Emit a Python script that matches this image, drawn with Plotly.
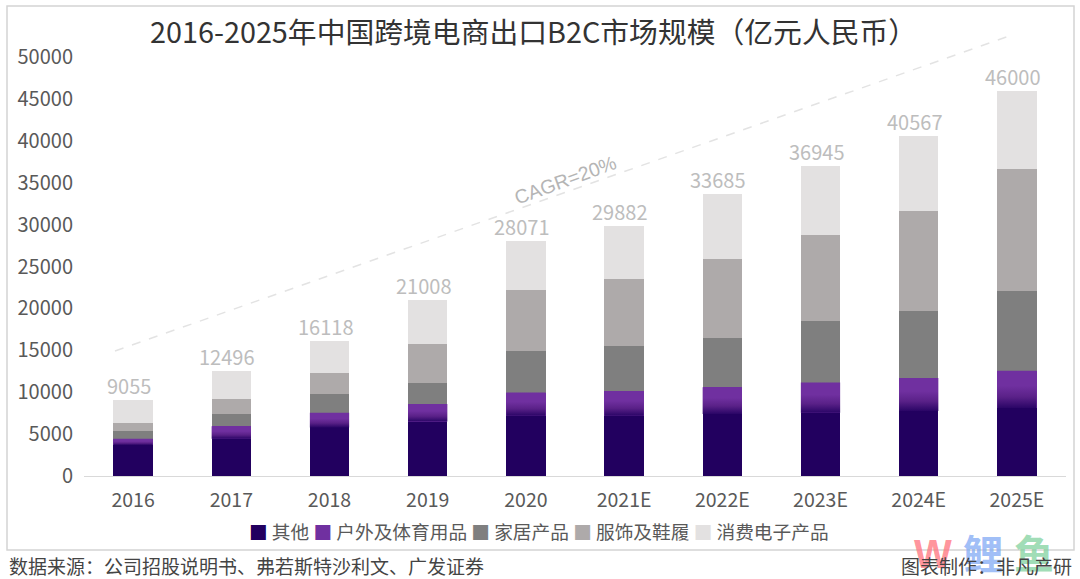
import plotly.graph_objects as go

years = ["2016","2017","2018","2019","2020","2021E","2022E","2023E","2024E","2025E"]
totals = [9055,12496,16118,21008,28071,29882,33685,36945,40567,46000]
other = [3700,4450,5800,6500,7200,7200,7400,7550,7750,8100]
outdoor = [750,1500,1750,2100,2750,2950,3200,3600,3950,4450]
home = [900,1450,2200,2550,5000,5350,5850,7350,8000,9550]
apparel = [1000,1800,2550,4600,7300,8000,9450,10250,11950,14550]
electronics = [2705,3296,3818,5258,5821,6382,7785,8195,8917,9350]
names = ["其他","户外及体育用品","家居产品","服饰及鞋履","消费电子产品"]
colors = ["#22005f","#7030a0","#7f7f7f","#aeaaaa","#e3e1e1"]
yticks = [0,5000,10000,15000,20000,25000,30000,35000,40000,45000,50000]

FONT = "Noto Sans CJK SC"
BAR_W = 0.4
xs = list(range(len(years)))
fig = go.Figure()
for name, vals, c in zip(names, [other,outdoor,home,apparel,electronics], colors):
    fig.add_bar(x=xs, y=vals, name=name, width=BAR_W, marker=dict(color=c, line=dict(width=0)), showlegend=False)

# gradient on the purple segment, derived from the data arrays
for i in xs:
    lo, hi = other[i], other[i] + outdoor[i]
    fig.add_scatter(
        x=[i-BAR_W/2, i+BAR_W/2, i+BAR_W/2, i-BAR_W/2, i-BAR_W/2],
        y=[lo, lo, hi, hi, lo], mode="lines", line=dict(width=0), fill="toself",
        fillgradient=dict(type="vertical", colorscale=[[0,"#2a0566"],[0.3,"#5a2188"],[0.6,"#7030a0"],[1,"#7030a0"]]),
        showlegend=False, hoverinfo="skip")

annotations = [
    dict(x=i, y=t, text=str(t), xref="x", yref="y", yanchor="bottom", xshift=-4, yshift=-2,
         showarrow=False, font=dict(family=FONT, size=20, color="#bdbdbd"))
    for i, t in zip(xs, totals)
]
paper_x = lambda px: (px-84)/982
paper_y = lambda py: (476-py)/419
def note(px, py, text, size, color, xanchor="center", family=FONT, angle=0):
    return dict(xref="paper", yref="paper", x=paper_x(px), y=paper_y(py), text=text, xanchor=xanchor, yanchor="middle",
                showarrow=False, textangle=angle, font=dict(family=family, size=size, color=color))
legend_text = " ".join(f'<span style="color:{c}">■</span> {n}' for n, c in zip(names, colors))
annotations += [
    note(533, 30, "2016-2025年中国跨境电商出口B2C市场规模\uff08亿元人民币\uff09", 28.8, "#333333"),
    note(565, 180, "CAGR=20%", 19.5, "#b5b5b5", family="Liberation Sans", angle=-20),
    note(539, 530, legend_text, 18.7, "#595959"),
    note(933, 554, "<b>W</b>", 40, "rgba(255,120,130,0.8)", family="Liberation Sans"),
    note(983, 552, "<b>鲤</b>", 40, "rgba(130,170,245,0.75)"),
    note(1034, 552, "<b>鱼</b>", 40, "rgba(130,210,160,0.75)"),
    note(7, 565, "数据来源\uff1a公司招股说明书、弗若斯特沙利文、广发证券", 19, "#444444", xanchor="left"),
    note(1074, 565, "图表制作\uff1a非凡产研", 19, "#444444", xanchor="right"),
]

fig.update_layout(
    width=1080, height=579, barmode="stack", showlegend=False,
    margin=dict(l=84, r=14, t=57, b=103, pad=0),
    paper_bgcolor="white", plot_bgcolor="white", font=dict(family=FONT, color="#595959"),
    xaxis=dict(range=[-0.5, 9.5], tickmode="array", tickvals=xs, ticktext=years, showgrid=False,
               zeroline=False, showline=True, linecolor="#d9d9d9", linewidth=1, ticks="", ticklabelstandoff=7,
               tickfont=dict(size=19.5, color="#595959")),
    yaxis=dict(range=[0, 50000], tickmode="array", tickvals=yticks, ticktext=[str(v) for v in yticks], showgrid=False,
               zeroline=False, showline=False, ticks="", ticklabelstandoff=10, tickfont=dict(size=20, color="#595959")),
    annotations=annotations,
    shapes=[
        dict(type="rect", xref="paper", yref="paper", x0=paper_x(7), x1=paper_x(1074), y0=paper_y(550), y1=paper_y(6),
             line=dict(color="#d4d4d4", width=1.5), fillcolor="rgba(0,0,0,0)", layer="below"),
        dict(type="line", xref="paper", yref="paper", x0=paper_x(115), x1=paper_x(1012), y0=paper_y(351), y1=paper_y(35),
             line=dict(color="#e3e3e3", width=1.5, dash="dash"), layer="below"),
    ],
)
fig.write_html("out.html", post_script="document.body.style.margin='0';", config={"displayModeBar": False})
